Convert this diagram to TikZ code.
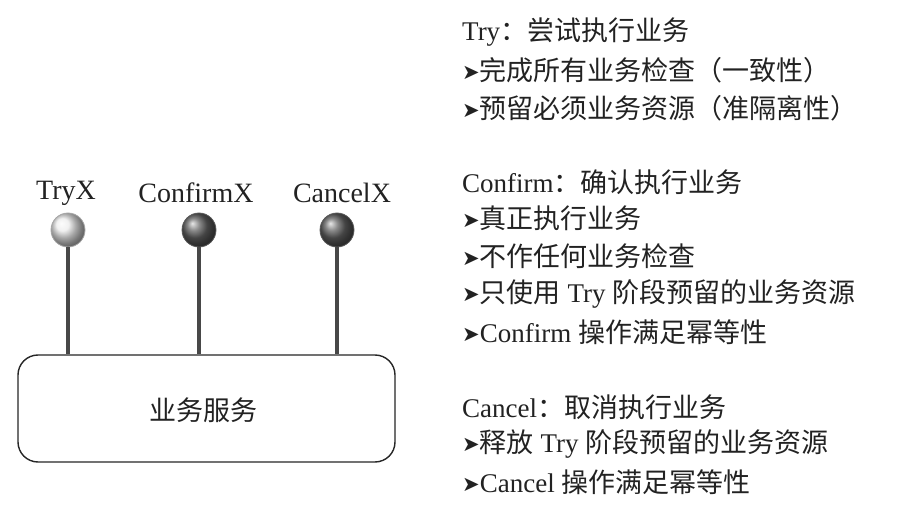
\documentclass[tikz,border=0pt]{standalone}
\usepackage{fontspec}
\setmainfont{Liberation Serif}
\newfontfamily\cjk{Noto Sans CJK SC}
\newfontfamily\dvfont{DejaVu Sans}
\newcommand\bul{{\dvfont\fontsize{21}{22}\selectfont\raisebox{1pt}{➤}}}
\newcommand\zh[1]{{\cjk\fontsize{27}{30}\selectfont #1}}
\usetikzlibrary{positioning}
\definecolor{txt}{HTML}{222222}
\definecolor{stem}{HTML}{484848}
\tikzset{
  line/.style={draw=stem, line width=3.2pt},
  ball/.style={circle, minimum size=34pt, inner sep=0pt, line width=0.8pt},
  lightball/.style={ball, ball color=gray!15, draw=gray!70},
  darkball/.style={ball, ball color=black!62, draw=black!65},
  lbl/.style={text=txt, font=\fontsize{28}{30}\selectfont, inner sep=0pt},
  desc/.style={anchor=west, text=txt, font=\fontsize{27}{30}\selectfont, inner sep=0pt},
  svcbox/.style={draw=black!85, line width=1.4pt, rounded corners=20pt, minimum width=377pt, minimum height=107pt, fill=white}
}
\begin{document}
\begin{tikzpicture}[x=1pt,y=-1pt]
\useasboundingbox (0,0) rectangle (898,510);
\node[svcbox] (svc) at (206.5,408.5) {};
\node[lbl] (svclbl) at (203,410) {\cjk\fontsize{27}{30}\selectfont 业务服务};
\node[lightball] (tryb) at (68,230) {};
\node[darkball] (confb) at (199,230) {};
\node[darkball] (cancb) at (337,230) {};
\draw[line] (tryb.south) -- (tryb.south |- svc.north);
\draw[line] (confb.south) -- (confb.south |- svc.north);
\draw[line] (cancb.south) -- (cancb.south |- svc.north);
\node[lbl] (tryl) at (66,193) {TryX};
\node[lbl] (confl) at (196,193) {ConfirmX};
\node[lbl] (cancl) at (342,193) {CancelX};
\node[desc] (t1) at (462,32) {Try\zh{：尝试执行业务}};
\node[desc] (t2) at (462,70) {\bul\zh{完成所有业务检查（一致性）}};
\node[desc] (t3) at (462,108) {\bul\zh{预留必须业务资源（准隔离性）}};
\node[desc] (c1) at (462,182) {Confirm\zh{：确认执行业务}};
\node[desc] (c2) at (462,218) {\bul\zh{真正执行业务}};
\node[desc] (c3) at (462,256) {\bul\zh{不作任何业务检查}};
\node[desc] (c4) at (462,294) {\bul\zh{只使用} Try \zh{阶段预留的业务资源}};
\node[desc] (c5) at (462,332) {\bul Confirm \zh{操作满足幂等性}};
\node[desc] (x1) at (462,407) {Cancel\zh{：取消执行业务}};
\node[desc] (x2) at (462,444) {\bul\zh{释放} Try \zh{阶段预留的业务资源}};
\node[desc] (x3) at (462,482) {\bul Cancel \zh{操作满足幂等性}};
\end{tikzpicture}
\end{document}
